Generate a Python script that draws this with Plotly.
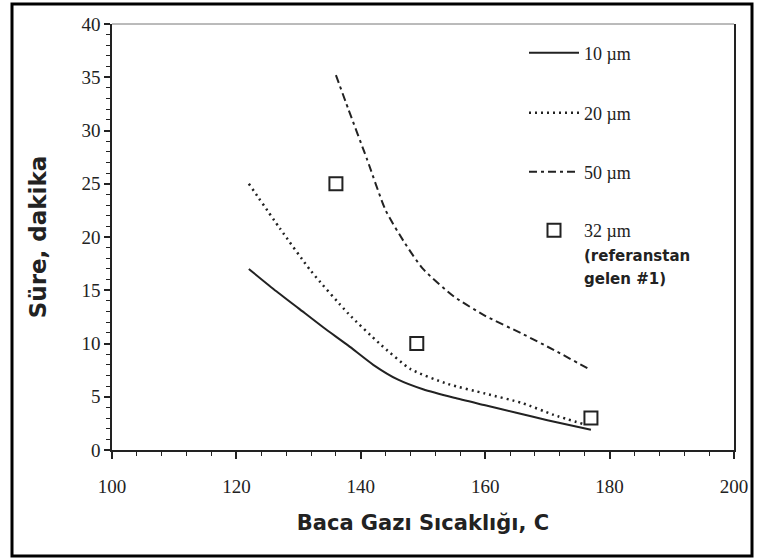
import plotly.graph_objects as go

# ---- data ----
x_10 = [122, 126, 130, 134, 138, 142, 146, 150, 155, 160, 165, 170, 177]
y_10 = [17.0, 15.1, 13.3, 11.5, 9.8, 8.0, 6.6, 5.7, 4.9, 4.2, 3.5, 2.8, 1.9]

x_20 = [122, 127, 132, 138, 143, 148, 154, 160, 166, 171, 176]
y_20 = [25.0, 20.8, 16.8, 12.8, 10.0, 7.6, 6.2, 5.3, 4.4, 3.3, 2.4]

x_50 = [136, 138, 141, 144, 147, 150, 155, 160, 166, 171, 177]
y_50 = [35.2, 32.0, 27.3, 22.5, 19.5, 17.0, 14.4, 12.6, 10.9, 9.4, 7.5]

x_32 = [136, 149, 177]
y_32 = [25, 10, 3]

x_ticks = [100, 120, 140, 160, 180, 200]
y_ticks = [0, 5, 10, 15, 20, 25, 30, 35, 40]

SERIF = "Liberation Serif"
SANS = "DejaVu Sans"
INK = "#222222"

fig = go.Figure()
fig.add_trace(go.Scatter(x=x_10, y=y_10, mode="lines", name="10 µm",
                         line=dict(color=INK, width=2, shape="spline", smoothing=0.6),
                         legend="legend"))
fig.add_trace(go.Scatter(x=x_20, y=y_20, mode="lines", name="20 µm",
                         line=dict(color=INK, width=2.5, dash="2px,4px", shape="spline", smoothing=0.6),
                         legend="legend2"))
fig.add_trace(go.Scatter(x=x_50, y=y_50, mode="lines", name="50 µm",
                         line=dict(color=INK, width=2, dash="8px,4px,3px,4px", shape="spline", smoothing=0.6),
                         legend="legend3"))
fig.add_trace(go.Scatter(x=x_32, y=y_32, mode="markers",
                         name="32 µm<br><span style='font-family:DejaVu Sans;font-size:15px'><b>(referanstan</b></span><br><span style='font-family:DejaVu Sans;font-size:15px'><b>gelen #1)</b></span>",
                         marker=dict(symbol="square-open", size=13, color=INK, line=dict(width=2, color=INK)),
                         legend="legend4"))

# plot area in px: x 112..734, y 24..450
def lx(px):
    return (px - 112) / 622.0

def ly(py):
    return (450 - py) / 426.0

leg_common = dict(xanchor="left", yanchor="middle", bgcolor="rgba(0,0,0,0)",
                  font=dict(family=SERIF, size=18, color=INK), itemwidth=50,
                  borderwidth=0)
fig.update_layout(
    legend=dict(x=lx(524), y=ly(53), **leg_common),
    legend2=dict(x=lx(524), y=ly(113), **leg_common),
    legend3=dict(x=lx(524), y=ly(172), **leg_common),
    legend4=dict(x=lx(524), y=ly(254), valign="top", **leg_common),
)

fig.update_xaxes(range=[100, 200], tickvals=x_ticks, ticktext=[str(v) for v in x_ticks],
                 showgrid=False, zeroline=False, showline=True, linecolor=INK, linewidth=1.5,
                 ticks="outside", ticklen=7, tickwidth=1.5, tickcolor=INK,
                 minor=dict(dtick=4, tick0=100, ticks="outside", ticklen=4, tickwidth=1, tickcolor=INK),
                 tickfont=dict(family=SERIF, size=19, color=INK), ticklabelstandoff=11,
                 title=dict(text="<b>Baca Gazı Sıcaklığı, C</b>", font=dict(family=SANS, size=21, color=INK),
                            standoff=20))
fig.update_yaxes(range=[0, 40], tickvals=y_ticks, ticktext=[str(v) for v in y_ticks],
                 showgrid=False, zeroline=False, showline=True, linecolor=INK, linewidth=1.5,
                 mirror=True,
                 ticks="outside", ticklen=6, tickwidth=1.5, tickcolor=INK,
                 minor=dict(dtick=1, tick0=0, ticks="outside", ticklen=4, tickwidth=1, tickcolor=INK),
                 tickfont=dict(family=SERIF, size=19, color=INK), ticklabelstandoff=0,
                 title=dict(text="<b>Süre, dakika</b>", font=dict(family=SANS, size=23, color=INK),
                            standoff=28))

fig.update_layout(
    width=758, height=560,
    margin=dict(l=112, r=24, t=24, b=110, autoexpand=False),
    paper_bgcolor="white", plot_bgcolor="white",
    showlegend=True,
    shapes=[
        # outer frame of the figure
        dict(type="rect", xref="paper", yref="paper", x0=-100/622, x1=640/622,
             y0=-106/426, y1=446/426, line=dict(color="black", width=3)),
        # faint top border of the plot box
        dict(type="line", xref="paper", yref="paper", x0=0, x1=1, y0=1, y1=1,
             line=dict(color="#777777", width=1)),
    ],
)

fig.write_html("out.html", config={"displayModeBar": False},
               post_script="document.body.style.margin='0';")
